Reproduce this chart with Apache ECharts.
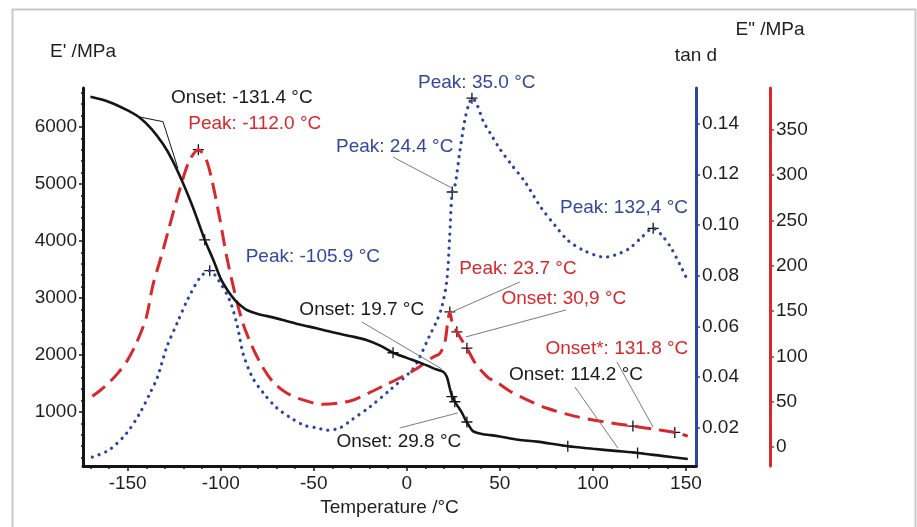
<!DOCTYPE html>
<html>
<head>
<meta charset="utf-8">
<script src="https://cdn.jsdelivr.net/npm/echarts@6/dist/echarts.min.js"></script>
<style>
  html, body { margin: 0; padding: 0; background: #fff; }
  #chart { width: 917px; height: 527px; }
</style>
</head>
<body>
<div id="chart"></div>
<script>
// ---- data ----
const storageTemp = [-170, -160, -150, -143, -137, -131, -126, -121, -116, -112, -108.6, -104, -100, -96, -92, -89, -86, -80, -72, -66.5, -58, -48.5, -40, -30, -21.7, -14, -7.4, 0, 6, 12, 16, 19.5, 21.5, 23, 24.2, 25.8, 27, 29.6, 32, 34, 35.5, 38, 41, 45, 50, 60, 70, 86.5, 100, 112, 124, 137, 151];
const storageMod = [6530, 6440, 6290, 6150, 5960, 5700, 5420, 5070, 4680, 4330, 4020, 3670, 3340, 3120, 2950, 2860, 2790, 2720, 2660, 2614, 2540, 2468, 2400, 2330, 2263, 2160, 2040, 1950, 1880, 1800, 1745, 1707, 1620, 1430, 1290, 1180, 1120, 990, 830, 730, 665, 630, 610, 595, 570, 515, 480, 400, 355, 318, 282, 230, 175];

const lossTemp = [-169, -165, -160, -155, -150, -145, -140, -136.5, -133, -131, -128, -122, -117, -112, -108, -104.8, -100.5, -96.8, -91.5, -88, -84, -78, -72, -65, -57.5, -45, -30, -20, -13, -2, 5, 10.6, 14, 17.7, 20.4, 22, 23.1, 24.2, 25.5, 26.9, 29.5, 32.3, 36, 39.2, 44, 48, 55, 63.5, 75, 90, 105, 121.5, 135, 144, 151];
const lossMod = [56, 62, 71, 82, 96, 116, 143, 178, 203, 217, 240, 284, 315, 328, 318, 295, 252, 210, 162, 136, 115, 90, 72, 60, 53, 47, 51, 60, 67, 78, 86, 94, 99, 103, 115, 138, 149, 139, 132, 127, 118, 109, 95, 86, 76, 72, 62, 53, 43, 34, 28, 23, 19, 16, 12];

const tanTemp = [-169, -160, -150.5, -143.5, -138, -134, -129, -123, -118, -111, -106, -101, -95, -91, -88, -83, -77, -70, -63, -55, -48, -43, -36, -30, -20, -9, 3, 7, 12, 16, 18.8, 21.5, 23, 24.4, 26, 28.5, 31.2, 33.5, 35.2, 38, 41, 45, 50, 56, 63.5, 72, 80, 86.5, 95, 106.5, 115, 120, 126, 132.4, 137, 142, 147, 151];
const tanD = [0.0085, 0.0113, 0.018, 0.0258, 0.0337, 0.040, 0.0518, 0.062, 0.0703, 0.0794, 0.082, 0.078, 0.070, 0.060, 0.0494, 0.040, 0.0337, 0.028, 0.0243, 0.021, 0.020, 0.0191, 0.020, 0.023, 0.0282, 0.035, 0.043, 0.048, 0.056, 0.062, 0.0676, 0.078, 0.095, 0.113, 0.116, 0.129, 0.1415, 0.148, 0.150, 0.147, 0.141, 0.136, 0.130, 0.124, 0.117, 0.107, 0.0995, 0.094, 0.090, 0.0873, 0.089, 0.091, 0.095, 0.0987, 0.096, 0.091, 0.084, 0.078];

// onset tangent construction on E'
const tangentTemp = [-143.5, -131, -123];
const tangentMod = [6175, 6093, 5276];

// "+" markers
const storageMarkT = [-108.6, -7.4, 24.2, 25.8, 32.3, 86.5, 124];
const storageMarkV = [4020, 2040, 1270, 1180, 825, 400, 282];
const lossMarkT = [-112, 23.1, 26.9, 32.3, 121.5, 144];
const lossMarkV = [328, 149, 127, 109, 23, 16];
const tanMarkT = [-105.9, 24.4, 35.0, 132.4];
const tanMarkV = [0.082, 0.113, 0.150, 0.0987];

// annotations (placed in temperature / E' units)
const noteText = ['Onset: -131.4 °C', 'Peak: -112.0 °C', 'Peak: 24.4 °C', 'Peak: 35.0 °C', 'Peak: 132,4 °C', 'Peak: -105.9 °C', 'Onset: 19.7 °C', 'Peak: 23.7 °C', 'Onset: 30,9 °C', 'Onset*: 131.8 °C', 'Onset: 114.2 °C', 'Onset: 29.8 °C'];
const noteT = [-88.7, -81.7, -6.5, 37.6, 116.7, -50.5, -24.2, 59.7, 84.4, 112.9, 90.9, -4.3];
const noteV = [6509, 6053, 5649, 6772, 4579, 3720, 2790, 3509, 2983, 2106, 1650, 475];
const noteKind = ['k', 'r', 'b', 'b', 'b', 'b', 'k', 'r', 'r', 'r', 'k', 'k'];

// leader lines: [T1, E'1, T2, E'2]
const leaders = [
  [-7.5, 5474, 24.2, 4930],
  [60.7, 3281, 23.1, 2738],
  [85.5, 2790, 31.7, 2317],
  [-24.2, 2580, 18.8, 1755],
  [-3.8, 720, 27.4, 984],
  [90.3, 1440, 113.4, 370],
  [112.9, 1878, 132.3, 738]
];

// ticks
const xMajor = [-150, -100, -50, 0, 50, 100, 150];
const xMinor = [-170, -160, -140, -130, -120, -110, -90, -80, -70, -60, -40, -30, -20, -10, 10, 20, 30, 40, 60, 70, 80, 90, 110, 120, 130, 140];
const eMajor = [1000, 2000, 3000, 4000, 5000, 6000];
const eMinor = [200, 400, 600, 800, 1200, 1400, 1600, 1800, 2200, 2400, 2600, 2800, 3200, 3400, 3600, 3800, 4200, 4400, 4600, 4800, 5200, 5400, 5600, 5800, 6200, 6400, 6600];
const tanMajor = [0.02, 0.04, 0.06, 0.08, 0.10, 0.12, 0.14];
const tanMinor = [0.01, 0.03, 0.05, 0.07, 0.09, 0.11, 0.13, 0.15];
const lossMajor = [0, 50, 100, 150, 200, 250, 300, 350];
const lossMinor = [25, 75, 125, 175, 225, 275, 325, 375];

const BLACK = '#151515', RED = '#d8282c', BLUE = '#2c44a4';
const TXT = '#1f1f1f';
const FONT = "'Liberation Sans', Arial, sans-serif";
const noteColors = { k: '#1a1a1a', r: '#d8282c', b: '#33479e' };

const zip = (a, b) => a.map((v, i) => [v, b[i]]);
const plusPath = 'path://M4.4,0H5.6V4.4H10V5.6H5.6V10H4.4V5.6H0V4.4H4.4Z';

const chart = echarts.init(document.getElementById('chart'));

const X_MIN = -174, X_MAX = 155.4;
const E_MIN = 53, E_MAX = 6684;
const T_MIN = 0.005, T_MAX = 0.154;
const L_MIN = -21, L_MAX = 396;

function majorY(opts) {
  return Object.assign({
    type: 'value',
    splitLine: { show: false },
    nameLocation: 'end',
    nameTextStyle: { fontSize: 19, color: TXT, fontFamily: FONT, align: 'center' }
  }, opts);
}

function minorY(min, max, position, offset, values, color) {
  return {
    type: 'value', min, max, position, offset,
    axisLine: { show: false, onZero: false },
    axisTick: { show: true, customValues: values, length: 2, lineStyle: { color, width: 1.5 } },
    axisLabel: { show: false },
    splitLine: { show: false }
  };
}

function crosses(axis, t, v) {
  return {
    type: 'scatter', yAxisIndex: axis, data: zip(t, v), silent: true,
    symbol: plusPath, symbolSize: 11, itemStyle: { color: BLACK, opacity: 1 }
  };
}

const option = {
  backgroundColor: '#fff',
  animation: false,
  textStyle: { fontFamily: FONT },
  graphic: [{
    type: 'rect', left: 10, top: 7,
    shape: { width: 903, height: 540 },
    style: { fill: 'none', stroke: '#c9c9c9', lineWidth: 2 },
    silent: true
  }],
  grid: { left: 83, right: 221, top: 88, bottom: 61 },
  xAxis: [{
    type: 'value', min: X_MIN, max: X_MAX, position: 'bottom',
    axisLine: { onZero: false, lineStyle: { color: BLACK, width: 3 } },
    axisTick: { customValues: xMajor, length: 5, lineStyle: { color: BLACK, width: 1.5 } },
    axisLabel: { customValues: xMajor, fontSize: 19, color: TXT, margin: 8 },
    splitLine: { show: false },
    name: 'Temperature /°C', nameLocation: 'middle', nameGap: 32,
    nameTextStyle: { fontSize: 19, color: TXT }
  }, {
    type: 'value', min: X_MIN, max: X_MAX, position: 'bottom',
    axisLine: { show: false, onZero: false },
    axisTick: { customValues: xMinor, length: 3, lineStyle: { color: BLACK, width: 1.5 } },
    axisLabel: { show: false },
    splitLine: { show: false }
  }],
  yAxis: [
    majorY({
      min: E_MIN, max: E_MAX, position: 'left',
      axisLine: { show: true, onZero: false, lineStyle: { color: BLACK, width: 3 } },
      axisTick: { show: true, customValues: eMajor, length: 4, lineStyle: { color: BLACK, width: 1.5 } },
      axisLabel: { customValues: eMajor, fontSize: 19, color: TXT, margin: 6, formatter: v => String(v) },
      name: "E' /MPa", nameGap: 27
    }),
    majorY({
      min: T_MIN, max: T_MAX, position: 'right', offset: 0,
      axisLine: { show: true, onZero: false, lineStyle: { color: BLUE, width: 3 } },
      axisTick: { show: true, customValues: tanMajor, length: 4, lineStyle: { color: BLUE, width: 1.5 } },
      axisLabel: { customValues: tanMajor, fontSize: 19, color: TXT, margin: 6, formatter: v => v.toFixed(2) },
      name: 'tan d', nameGap: 23
    }),
    majorY({
      min: L_MIN, max: L_MAX, position: 'right', offset: 74,
      axisLine: { show: true, onZero: false, lineStyle: { color: RED, width: 3 } },
      axisTick: { show: true, customValues: lossMajor, length: 4, lineStyle: { color: RED, width: 1.5 } },
      axisLabel: { customValues: lossMajor, fontSize: 19, color: TXT, margin: 6, formatter: v => String(v) },
      name: 'E" /MPa', nameGap: 49
    }),
    minorY(E_MIN, E_MAX, 'left', 0, eMinor, BLACK),
    minorY(T_MIN, T_MAX, 'right', 0, tanMinor, BLUE),
    minorY(L_MIN, L_MAX, 'right', 74, lossMinor, RED)
  ],
  series: [
    {
      name: 'tan d', type: 'line', yAxisIndex: 1, data: zip(tanTemp, tanD),
      showSymbol: false, smooth: 0.3, silent: true,
      lineStyle: { color: BLUE, width: 3.2, type: [0.1, 7], cap: 'round' }
    },
    {
      name: "E''", type: 'line', yAxisIndex: 2, data: zip(lossTemp, lossMod),
      showSymbol: false, smooth: 0.3, silent: true,
      lineStyle: { color: RED, width: 3, type: [16, 8] }
    },
    {
      name: 'tangent', type: 'line', yAxisIndex: 0, data: zip(tangentTemp, tangentMod),
      showSymbol: false, silent: true,
      lineStyle: { color: BLACK, width: 1 }
    },
    {
      name: "E'", type: 'line', yAxisIndex: 0, data: zip(storageTemp, storageMod),
      showSymbol: false, smooth: 0.3, silent: true,
      lineStyle: { color: BLACK, width: 2.6 }
    },
    crosses(0, storageMarkT, storageMarkV),
    crosses(2, lossMarkT, lossMarkV),
    crosses(1, tanMarkT, tanMarkV),
    {
      type: 'scatter', yAxisIndex: 0, clip: false, silent: true,
      symbolSize: 1, itemStyle: { color: 'rgba(0,0,0,0)', opacity: 1 },
      data: noteText.map((t, i) => ({
        value: [noteT[i], noteV[i]],
        label: {
          show: true, position: 'inside', formatter: t, opacity: 1,
          fontSize: 19, color: noteColors[noteKind[i]], fontFamily: FONT
        }
      })),
      markLine: {
        silent: true, symbol: ['none', 'none'], animation: false,
        label: { show: false },
        lineStyle: { color: '#7a7a7a', width: 1, type: 'solid', opacity: 1 },
        data: leaders.map(l => [{ coord: [l[0], l[1]] }, { coord: [l[2], l[3]] }])
      }
    }
  ]
};

chart.setOption(option);
</script>
</body>
</html>
